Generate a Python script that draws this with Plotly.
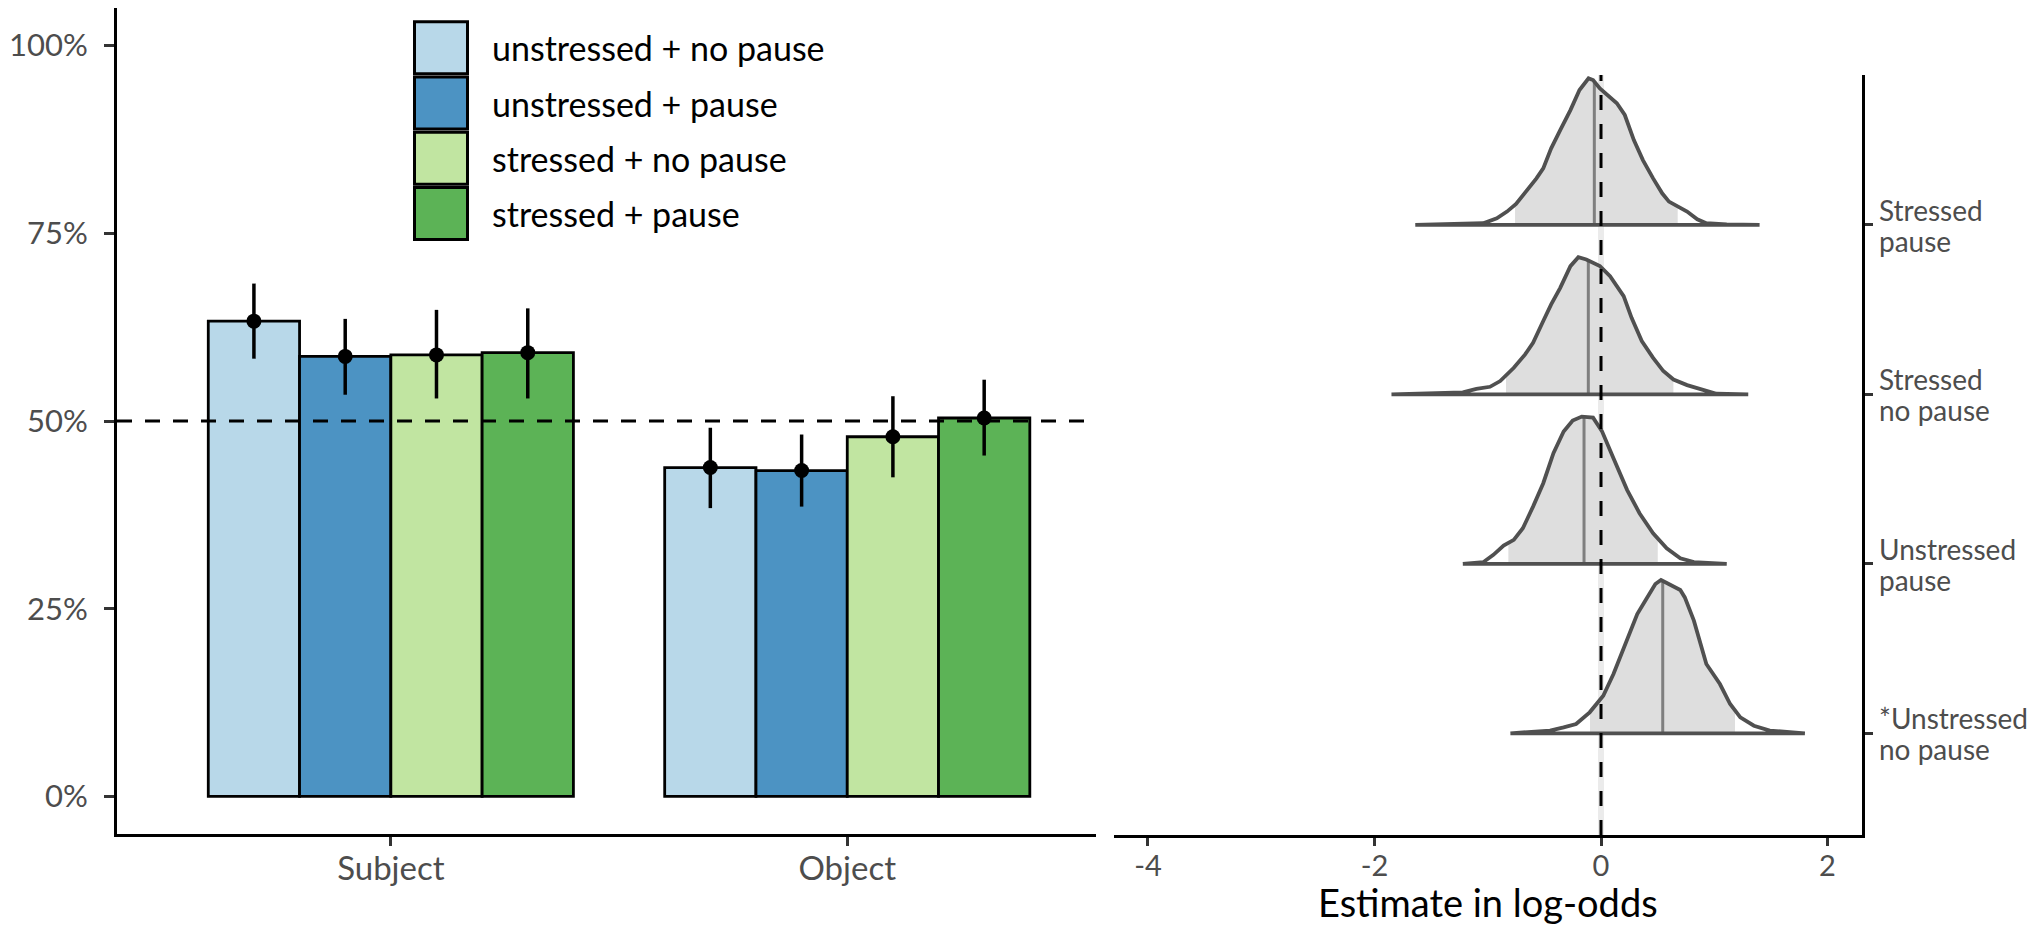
import numpy as np
import plotly.graph_objects as go

# Target canvas is 2041x932; the page body adds an 8px margin around the figure.
CANVAS_W, CANVAS_H = 2041, 932
OFF = 8
W, H = CANVAS_W - 2 * OFF, CANVAS_H - 2 * OFF

# ---------------- data: left panel (proportions) ----------------
positions = ["Subject", "Object"]
conditions = ["unstressed + no pause", "unstressed + pause",
              "stressed + no pause", "stressed + pause"]
cond_colors = ["#B8D8E9", "#4C93C3", "#C1E5A1", "#5CB356"]

prop_subject = [0.633, 0.586, 0.588, 0.591]
prop_object = [0.438, 0.434, 0.479, 0.504]
ci_low_subject = [0.583, 0.535, 0.530, 0.530]
ci_high_subject = [0.683, 0.636, 0.648, 0.650]
ci_low_object = [0.384, 0.386, 0.425, 0.454]
ci_high_object = [0.491, 0.482, 0.533, 0.555]

y_tickvals = [0, 0.25, 0.5, 0.75, 1.0]
y_ticktext = ["0%", "25%", "50%", "75%", "100%"]

# ---------------- data: right panel (posterior densities) ----------------
ridge_line1 = ["*Unstressed", "Unstressed", "Stressed", "Stressed"]
ridge_line2 = ["no pause", "pause", "no pause", "pause"]

x_unst_nop = [-0.80, -0.45, -0.33, -0.22, -0.10, 0.02, 0.11, 0.23, 0.32, 0.40, 0.48, 0.53,
              0.61, 0.70, 0.74, 0.82, 0.93, 1.05, 1.14, 1.23, 1.35, 1.49, 1.80]
h_unst_nop = [0.0, 0.016, 0.035, 0.055, 0.124, 0.222, 0.350, 0.547, 0.704, 0.793, 0.881, 0.905,
              0.877, 0.846, 0.802, 0.665, 0.409, 0.291, 0.173, 0.094, 0.045, 0.016, 0.0]
lo_unst_nop, hi_unst_nop, med_unst_nop = -0.097, 1.183, 0.545

x_unst_p = [-1.22, -1.04, -0.95, -0.86, -0.77, -0.69, -0.60, -0.51, -0.42, -0.33, -0.25, -0.17,
            -0.07, 0.01, 0.11, 0.23, 0.34, 0.46, 0.58, 0.70, 0.82, 1.11]
h_unst_p = [0.0, 0.010, 0.053, 0.108, 0.142, 0.210, 0.338, 0.476, 0.653, 0.781, 0.846, 0.869,
            0.863, 0.781, 0.623, 0.437, 0.299, 0.181, 0.092, 0.033, 0.010, 0.0]
lo_unst_p, hi_unst_p, med_unst_p = -0.818, 0.501, -0.150

x_str_nop = [-1.85, -1.39, -1.22, -1.10, -0.98, -0.89, -0.77, -0.67, -0.60, -0.51, -0.44, -0.36,
             -0.27, -0.20, -0.13, -0.01, 0.08, 0.20, 0.27, 0.36, 0.46, 0.55, 0.64, 0.76, 0.90,
             1.02, 1.30]
h_str_nop = [0.0, 0.008, 0.012, 0.033, 0.045, 0.079, 0.157, 0.236, 0.305, 0.433, 0.531, 0.629,
             0.757, 0.810, 0.796, 0.757, 0.698, 0.580, 0.452, 0.315, 0.216, 0.138, 0.088, 0.055,
             0.029, 0.004, 0.0]
lo_str_nop, hi_str_nop, med_str_nop = -0.839, 0.639, -0.112

x_str_p = [-1.64, -1.25, -1.04, -0.92, -0.83, -0.75, -0.66, -0.57, -0.51, -0.44, -0.36, -0.27,
           -0.19, -0.11, -0.07, -0.01, 0.14, 0.21, 0.29, 0.37, 0.46, 0.54, 0.60, 0.68, 0.76,
           0.85, 0.93, 1.11, 1.40]
h_str_p = [0.0, 0.006, 0.010, 0.039, 0.079, 0.124, 0.197, 0.275, 0.334, 0.452, 0.560, 0.678,
           0.796, 0.865, 0.855, 0.806, 0.718, 0.649, 0.501, 0.383, 0.275, 0.187, 0.138, 0.108,
           0.079, 0.033, 0.010, 0.004, 0.0]
lo_str_p, hi_str_p, med_str_p = -0.759, 0.677, -0.059

ridges = [
    (x_unst_nop, h_unst_nop, lo_unst_nop, hi_unst_nop, med_unst_nop),
    (x_unst_p, h_unst_p, lo_unst_p, hi_unst_p, med_unst_p),
    (x_str_nop, h_str_nop, lo_str_nop, hi_str_nop, med_str_nop),
    (x_str_p, h_str_p, lo_str_p, hi_str_p, med_str_p),
]

x2_tickvals = [-4, -2, 0, 2]
x2_ticktext = ["-4", "-2", "0", "2"]

# ---------------- styling ----------------
MAIN_FONT = "Lato, 'Open Sans', sans-serif"
SIDE_FONT = "Lato, 'Open Sans', sans-serif"
TICK_COL = "#4D4D4D"


def px(p):
    """canvas pixel x -> paper fraction"""
    return (p - OFF) / W


def py(p):
    """canvas pixel y -> paper fraction"""
    return 1 - (p - OFF) / H


fig = go.Figure()

# ---- left panel bars ----
group_x = [i + 1 for i in range(len(positions))]
n_cond = len(conditions)
BARGAP = 0.2
bar_w = (1 - BARGAP) / n_cond
for i, cond in enumerate(conditions):
    vals = [prop_subject[i], prop_object[i]]
    fig.add_trace(go.Bar(
        x=group_x, y=vals, name=cond,
        marker=dict(color=cond_colors[i], line=dict(color="black", width=2.8)),
        xaxis="x", yaxis="y", showlegend=False, hoverinfo="skip",
    ))

# ---- points + error bars (dodged like the bars) ----
for i, cond in enumerate(conditions):
    off = -(1 - BARGAP) / 2 + bar_w * (i + 0.5)
    xs = [g + off for g in group_x]
    vals = np.array([prop_subject[i], prop_object[i]])
    hi = np.array([ci_high_subject[i], ci_high_object[i]])
    lo = np.array([ci_low_subject[i], ci_low_object[i]])
    fig.add_trace(go.Scatter(
        x=xs, y=vals, mode="markers",
        marker=dict(color="black", size=15),
        error_y=dict(type="data", array=hi - vals, arrayminus=vals - lo,
                     color="black", thickness=3.5, width=0),
        xaxis="x", yaxis="y", showlegend=False, hoverinfo="skip", cliponaxis=False,
    ))

# ---- right panel ridges ----
for k, (xs, hs, lo, hi, med) in enumerate(ridges):
    base = k + 1
    xs = np.array(xs)
    hs = np.array(hs)
    inside = (xs > lo) & (xs < hi)
    sx = np.concatenate([[lo], xs[inside], [hi]])
    sh = np.interp(sx, xs, hs)
    fig.add_trace(go.Scatter(
        x=list(sx) + [hi, lo], y=list(base + sh) + [base, base],
        mode="lines", fill="toself", fillcolor="#DEDEDE", line=dict(width=0),
        xaxis="x2", yaxis="y2", showlegend=False, hoverinfo="skip",
    ))
    fig.add_trace(go.Scatter(
        x=[med, med], y=[base, base + float(np.interp(med, xs, hs))],
        mode="lines", line=dict(color="#7F7F7F", width=3),
        xaxis="x2", yaxis="y2", showlegend=False, hoverinfo="skip",
    ))
    fig.add_trace(go.Scatter(
        x=list(xs) + [xs[0]], y=list(base + hs) + [base],
        mode="lines", line=dict(color="#505050", width=3.8),
        xaxis="x2", yaxis="y2", showlegend=False, hoverinfo="skip",
    ))

# ---- reference lines ----
fig.add_shape(type="line", xref="x domain", yref="y", x0=0, x1=1, y0=0.5, y1=0.5,
              line=dict(color="black", width=3, dash="15px,13px"), layer="above")
fig.add_shape(type="line", xref="x2", yref="y2 domain", x0=0, x1=0, y0=0, y1=1,
              line=dict(color="#EBEBEB", width=6), layer="below")
fig.add_shape(type="line", xref="x2", yref="y2 domain", x0=0, x1=0, y0=0, y1=1,
              line=dict(color="black", width=3, dash="15px,14px"), layer="above")

# ---- legend (drawn manually, large keys) ----
KEY_X0, KEY_X1, KEY_TOP, KEY_H, KEY_PITCH = 414.5, 467.5, 21.7, 52, 55.3
for i, cond in enumerate(conditions):
    top = KEY_TOP + KEY_PITCH * i
    fig.add_shape(type="rect", xref="paper", yref="paper",
                  x0=px(KEY_X0), x1=px(KEY_X1), y0=py(top + KEY_H), y1=py(top),
                  fillcolor=cond_colors[i], line=dict(color="black", width=3), layer="above")
    fig.add_annotation(text=cond, xref="paper", yref="paper",
                       x=px(490), y=py(top + KEY_H / 2), xanchor="left", yanchor="middle",
                       showarrow=False, font=dict(family=MAIN_FONT, size=34, color="black"))

# ---- right panel category labels (two lines each) ----
for k in range(len(ridges)):
    fig.add_annotation(text=ridge_line1[k], xref="paper", yref="y2", x=px(1877), y=k + 1,
                       xanchor="left", yanchor="middle", yshift=15, showarrow=False,
                       font=dict(family=SIDE_FONT, size=28, color=TICK_COL))
    fig.add_annotation(text=ridge_line2[k], xref="paper", yref="y2", x=px(1877), y=k + 1,
                       xanchor="left", yanchor="middle", yshift=-16, showarrow=False,
                       font=dict(family=SIDE_FONT, size=28, color=TICK_COL))

# ---- x-axis title of right panel ----
fig.add_annotation(text="Estimate in log-odds", xref="paper", yref="paper",
                   x=px(1487.5), y=py(902), xanchor="center", yanchor="middle",
                   showarrow=False, font=dict(family=SIDE_FONT, size=38, color="black"))

axis_common = dict(showgrid=False, zeroline=False, showline=True, linecolor="black",
                   linewidth=3, ticks="outside", tickcolor="#333333", tickwidth=3)

fig.update_layout(
    width=W, height=H, autosize=False,
    margin=dict(l=0, r=0, t=0, b=0, pad=0),
    paper_bgcolor="white", plot_bgcolor="white",
    barmode="group", bargap=BARGAP, bargroupgap=0,
    showlegend=False,
    xaxis=dict(domain=[px(117), px(1096)], range=[0.4, 2.545], anchor="y",
               tickvals=group_x, ticktext=positions, ticklen=9,
               tickfont=dict(family=MAIN_FONT, size=33, color=TICK_COL),
               ticklabelstandoff=-6, **axis_common),
    yaxis=dict(domain=[py(834), py(8)], range=[-0.05, 1.05], anchor="x",
               tickvals=y_tickvals, ticktext=y_ticktext, ticklen=10,
               tickfont=dict(family=MAIN_FONT, size=31, color=TICK_COL),
               ticklabelstandoff=10, **axis_common),
    xaxis2=dict(domain=[px(1114), px(1861.5)], range=[-4.3, 2.3], anchor="y2",
                tickvals=x2_tickvals, ticktext=x2_ticktext, ticklen=8,
                tickfont=dict(family=SIDE_FONT, size=29, color=TICK_COL),
                ticklabelstandoff=-5, **axis_common),
    yaxis2=dict(domain=[py(835), py(75)], range=[0.4, 4.885], anchor="x2", side="right",
                tickvals=[1, 2, 3, 4], showticklabels=False, ticklen=8, **axis_common),
)

fig.write_html("out.html")
